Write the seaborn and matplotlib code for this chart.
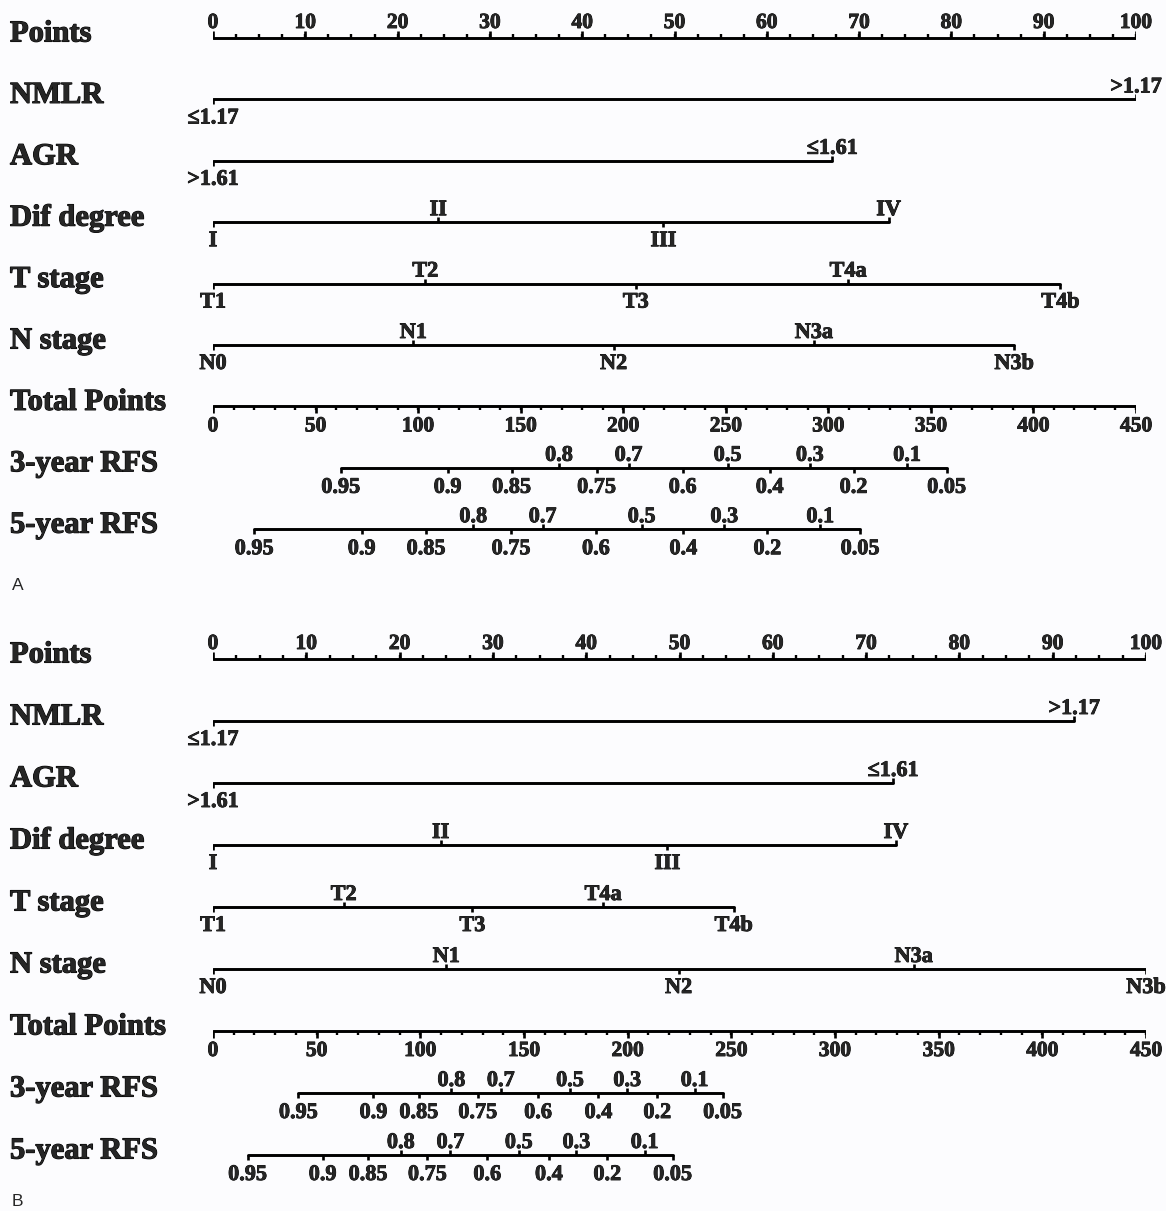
import numpy as np
import pandas as pd
import matplotlib
matplotlib.use("Agg")
import matplotlib.pyplot as plt
import matplotlib.transforms as mtransforms
import matplotlib.patheffects as pe
import seaborn as sns

sns.set_theme(style="white")
plt.rcParams["font.family"] = ["Liberation Serif", "DejaVu Serif"]
plt.rcParams["font.weight"] = "bold"

# ---------------------------------------------------------------- data
row_names = ["Points", "NMLR", "AGR", "Dif degree", "T stage", "N stage",
             "Total Points", "3-year RFS", "5-year RFS"]

point_labels = list(range(0, 101, 10))
total_labels = list(range(0, 451, 50))

nmlr_levels = ["≤1.17", ">1.17"]
nmlr_side = ["below", "above"]
nmlr_pts_a = [0, 100]
nmlr_pts_b = [0, 92.3]

agr_levels = [">1.61", "≤1.61"]
agr_side = ["below", "above"]
agr_pts_a = [0, 67.1]
agr_pts_b = [0, 72.9]

dif_levels = ["I", "II", "III", "IV"]
dif_side = ["below", "above", "below", "above"]
dif_pts_a = [0, 24.4, 48.8, 73.2]
dif_pts_b = [0, 24.4, 48.7, 73.2]

t_levels = ["T1", "T2", "T3", "T4a", "T4b"]
t_side = ["below", "above", "below", "above", "below"]
t_pts_a = [0, 23.0, 45.8, 68.8, 91.8]
t_pts_b = [0, 14.0, 27.8, 41.8, 55.8]

n_levels = ["N0", "N1", "N2", "N3a", "N3b"]
n_side = ["below", "above", "below", "above", "below"]
n_pts_a = [0, 21.7, 43.4, 65.1, 86.8]
n_pts_b = [0, 25.0, 49.9, 75.1, 100]

rfs_labels = ["0.95", "0.9", "0.85", "0.8", "0.75", "0.7", "0.6",
              "0.5", "0.4", "0.3", "0.2", "0.1", "0.05"]
rfs_side = ["below", "below", "below", "above", "below", "above", "below",
            "above", "below", "above", "below", "above", "below"]
# total points at which each survival probability is reached
rfs3_total_a = [62.3, 114.4, 145.6, 168.7, 187.0, 202.6, 229.0,
                250.9, 271.4, 291.0, 312.3, 338.4, 357.7]
rfs5_total_a = [20.1, 72.5, 103.9, 126.9, 145.3, 160.7, 186.7,
                209.0, 229.3, 249.3, 270.3, 296.1, 315.5]
rfs3_total_b = [41.2, 77.4, 99.3, 115.0, 127.7, 138.8, 156.8,
                172.2, 185.9, 199.8, 214.3, 232.3, 245.8]
rfs5_total_b = [16.7, 52.9, 74.8, 90.6, 103.4, 114.5, 132.3,
                147.5, 162.0, 175.3, 190.2, 208.2, 221.7]

TOTAL_MAX = 450

# ---------------------------------------------------------------- layout
W, H = 1166, 1211
fig = plt.figure(figsize=(W / 100, H / 100), dpi=100)
fig.patch.set_facecolor("#fcfcfe")

LW = 2.1
AXIS_TXT = 15.5
CAT_TXT = 16
ROW_TXT = 22
HEAVY = [pe.withStroke(linewidth=0.6, foreground="black")]


def draw_panel(spec):
    left, right, top, bottom = spec["left"], spec["right"], spec["top"], spec["bottom"]
    row0, step = spec["row0"], spec["step"]
    ax = fig.add_axes([left / W, 1 - bottom / H, (right - left) / W, (bottom - top) / H])
    ax.set_xlim(0, 100)
    ax.set_ylim((bottom - row0) / step, (top - row0) / step)
    ax.axis("off")

    def px(n):
        return n / step

    def off(dy):
        return mtransforms.offset_copy(ax.transData, fig=fig, x=0, y=dy, units="dots")

    def label(x, y, s, dy, va, size):
        ax.text(x, y, s, transform=off(dy), ha="center", va=va,
                fontsize=size, fontweight="bold", path_effects=HEAVY)

    # row titles at the left margin
    blend = mtransforms.blended_transform_factory(fig.transFigure, ax.transData)
    for i, name in enumerate(row_names):
        ax.text(10 / W, i - px(4), name, transform=blend, ha="left", va="center",
                fontsize=ROW_TXT, fontweight="bold", clip_on=False,
                path_effects=[pe.withStroke(linewidth=0.8, foreground="black")])

    # horizontal scale lines
    segs = []
    rows_pts = {
        0: [0, 100],
        1: spec["nmlr"], 2: spec["agr"], 3: spec["dif"], 4: spec["t"], 5: spec["n"],
        6: [0, 100],
        7: [v * 100 / TOTAL_MAX for v in spec["rfs3"]],
        8: [v * 100 / TOTAL_MAX for v in spec["rfs5"]],
    }
    for r, pts in rows_pts.items():
        segs.append({"seg": r, "x": min(pts), "y": r})
        segs.append({"seg": r, "x": max(pts), "y": r})
    seg_df = pd.DataFrame(segs)
    sns.lineplot(data=seg_df, x="x", y="y", units="seg", estimator=None, sort=False,
                 color="black", lw=LW, ax=ax, legend=False)

    # Points axis: ticks up, labels above
    minor = np.arange(0, 100.01, 2.5)
    ax.vlines(minor, 0 - px(4), 0, color="black", lw=1.7)
    ax.vlines(point_labels, 0 - px(7), 0, color="black", lw=1.9)
    for v in point_labels:
        label(v, 0, str(v), 10, "baseline", AXIS_TXT)

    # Total points axis: ticks down, labels below
    tminor = np.arange(0, TOTAL_MAX + 0.01, 10) * 100 / TOTAL_MAX
    tmajor = np.array(total_labels) * 100 / TOTAL_MAX
    ax.vlines(tminor, 6, 6 + px(4), color="black", lw=1.7)
    ax.vlines(tmajor, 6, 6 + px(7), color="black", lw=1.9)
    for v, x in zip(total_labels, tmajor):
        label(x, 6, str(v), -10, "top", AXIS_TXT)

    def categorical(r, pts, labels, sides, up_gap=7, down_gap=9):
        for x, lab, side in zip(pts, labels, sides):
            if side == "above":
                ax.vlines(x, r - px(5), r, color="black", lw=1.9)
                label(x, r, lab, up_gap, "baseline", CAT_TXT)
            else:
                ax.vlines(x, r, r + px(5), color="black", lw=1.9)
                label(x, r, lab, -down_gap, "top", CAT_TXT)

    categorical(1, spec["nmlr"], nmlr_levels, nmlr_side)
    categorical(2, spec["agr"], agr_levels, agr_side)
    categorical(3, spec["dif"], dif_levels, dif_side)
    categorical(4, spec["t"], t_levels, t_side)
    categorical(5, spec["n"], n_levels, n_side)
    categorical(7, rows_pts[7], rfs_labels, rfs_side, up_gap=7, down_gap=10)
    categorical(8, rows_pts[8], rfs_labels, rfs_side, up_gap=7, down_gap=10)

    fig.text(12 / W, 1 - spec["letter_y"] / H, spec["letter"], ha="left", va="center",
             fontsize=12.5, fontweight="normal", family=["Liberation Sans", "DejaVu Sans"])


panel_a = dict(left=213, right=1136, top=0, bottom=605, row0=38, step=61.4,
               nmlr=nmlr_pts_a, agr=agr_pts_a, dif=dif_pts_a, t=t_pts_a, n=n_pts_a,
               rfs3=rfs3_total_a, rfs5=rfs5_total_a, letter="A", letter_y=586)
panel_b = dict(left=213, right=1146, top=605, bottom=1211, row0=659, step=62.0,
               nmlr=nmlr_pts_b, agr=agr_pts_b, dif=dif_pts_b, t=t_pts_b, n=n_pts_b,
               rfs3=rfs3_total_b, rfs5=rfs5_total_b, letter="B", letter_y=1201)

draw_panel(panel_a)
draw_panel(panel_b)

fig.savefig("out.png", dpi=100, facecolor=fig.get_facecolor())
